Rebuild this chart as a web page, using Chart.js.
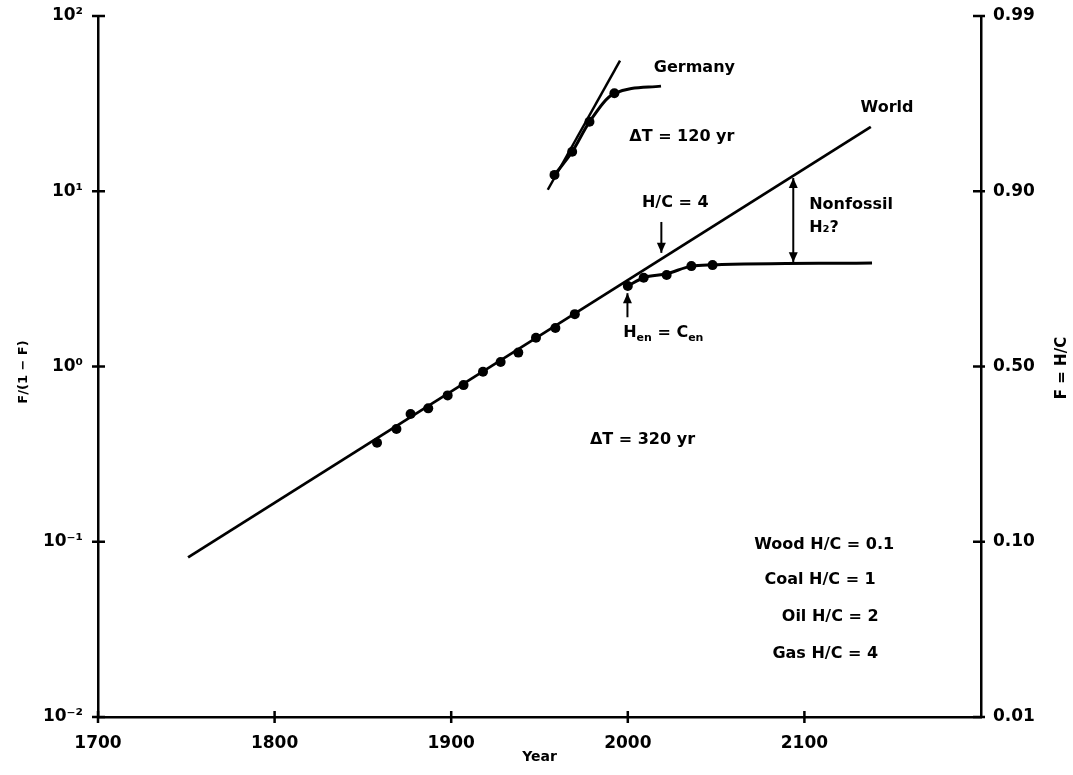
<!DOCTYPE html>
<html><head><meta charset="utf-8">
<script src="https://cdn.jsdelivr.net/npm/chart.js@4.4.0/dist/chart.umd.min.js"></script>
<style>html,body{margin:0;padding:0;background:#fff}canvas{display:block}</style>
</head><body>
<canvas id="c" width="1073" height="775"></canvas>
<script>
// ---- data ----
const xTickValues = [1700, 1800, 1900, 2000, 2100];
const yTickValues = [0.01, 0.1, 1, 10, 100];
const yTickLabels = ['10⁻²', '10⁻¹', '10⁰', '10¹', '10²'];
const fTickLabels = ['0.01', '0.10', '0.50', '0.90', '0.99'];

const worldPointYears  = [1858, 1869, 1877, 1887, 1898, 1907, 1918, 1928, 1938, 1948, 1959, 1970, 2000, 2009, 2022, 2036, 2048];
const worldPointValues = [0.367, 0.44, 0.536, 0.577, 0.684, 0.783, 0.933, 1.06, 1.20, 1.46, 1.66, 1.99, 2.88, 3.21, 3.33, 3.74, 3.79];
const worldTrendYears  = [1751, 2137.6];
const worldTrendValues = [0.0815, 23.3];
const worldFossilYears  = [2000, 2009, 2022, 2036, 2048, 2138.3];
const worldFossilValues = [2.88, 3.21, 3.38, 3.74, 3.8, 3.9];

const germanyPointYears  = [1958.5, 1968.5, 1978.3, 1992.4];
const germanyPointValues = [12.4, 16.8, 24.9, 36.2];
const germanyTrendYears  = [1954.7, 1995.6];
const germanyTrendValues = [10.2, 55.6];
const germanyCurveYears  = [1958.5, 1968.5, 1978.3, 1992.4, 2018.8];
const germanyCurveValues = [12.4, 16.8, 24.9, 36.2, 39.8];

// text annotations (year, value of text centre)
const noteTexts  = ['Germany', 'ΔT = 120 yr', 'World', 'H/C = 4', 'Nonfossil', 'H₂?', 'H|en| = C|en|', 'ΔT = 320 yr', 'Wood H/C = 0.1', 'Coal H/C = 1', 'Oil H/C = 2', 'Gas H/C = 4'];
const noteYears  = [2037.7, 2030.6, 2146.8, 2026.9, 2102.7, 2102.7, 2020.1, 2008.3, 2111.2, 2108.9, 2114.6, 2111.8];
const noteValues = [50.5, 20.4, 29.8, 8.57, 8.35, 6.17, 1.55, 0.381, 0.0958, 0.0605, 0.0372, 0.0229];
const noteAlign  = ['center', 'center', 'center', 'center', 'left', 'left', 'center', 'center', 'center', 'center', 'center', 'center'];

// arrows: year, from value, to value, double-headed?
const arrowYears = [2019.0, 1999.8, 2093.7];
const arrowFrom  = [6.68, 1.91, 3.94];
const arrowTo    = [4.45, 2.62, 11.9];
const arrowBoth  = [false, false, true];

const pts = (xs, ys) => xs.map((x, i) => ({x: x, y: ys[i]}));

const FONT = 'DejaVu Sans';

const overlay = {
  id: 'overlay',
  afterDraw(chart) {
    const ctx = chart.ctx;
    const xs = chart.scales.x, ys = chart.scales.y, y2 = chart.scales.y2;
    const a = chart.chartArea;
    ctx.save();
    ctx.strokeStyle = '#000';
    ctx.fillStyle = '#000';
    ctx.lineWidth = 2.5;
    // cross ticks
    ctx.beginPath();
    xs.ticks.forEach(t => { const p = xs.getPixelForValue(t.value); ctx.moveTo(p, a.bottom - 6); ctx.lineTo(p, a.bottom + 6); });
    ys.ticks.forEach(t => { const p = ys.getPixelForValue(t.value); ctx.moveTo(a.left - 6, p); ctx.lineTo(a.left + 7, p); });
    y2.ticks.forEach(t => { const p = y2.getPixelForValue(t.value); ctx.moveTo(a.right - 8, p); ctx.lineTo(a.right + 4, p); });
    ctx.stroke();

    // arrows
    ctx.lineWidth = 2;
    arrowYears.forEach((yr, i) => {
      const px = xs.getPixelForValue(yr);
      const p0 = ys.getPixelForValue(arrowFrom[i]);
      const p1 = ys.getPixelForValue(arrowTo[i]);
      ctx.beginPath(); ctx.moveTo(px, p0); ctx.lineTo(px, p1); ctx.stroke();
      const head = (py, dir) => {
        ctx.beginPath();
        ctx.moveTo(px, py);
        ctx.lineTo(px - 4.5, py - dir * 10);
        ctx.lineTo(px + 4.5, py - dir * 10);
        ctx.closePath(); ctx.fill();
      };
      head(p1, p1 > p0 ? 1 : -1);
      if (arrowBoth[i]) head(p0, p0 > p1 ? 1 : -1);
    });

    // text notes
    const big = 'bold 16px "' + FONT + '"', small = 'bold 11px "' + FONT + '"';
    ctx.textBaseline = 'middle';
    noteTexts.forEach((txt, i) => {
      const parts = txt.split('|').map((s, k) => ({t: s, sub: k % 2 === 1}));
      let w = 0;
      parts.forEach(p => { ctx.font = p.sub ? small : big; p.w = ctx.measureText(p.t).width; w += p.w; });
      let x = xs.getPixelForValue(noteYears[i]);
      const y = ys.getPixelForValue(noteValues[i]);
      if (noteAlign[i] === 'center') x -= w / 2;
      ctx.textAlign = 'left';
      parts.forEach(p => { ctx.font = p.sub ? small : big; ctx.fillText(p.t, x, p.sub ? y + 5 : y); x += p.w; });
    });

    // axis titles
    ctx.textAlign = 'center';
    ctx.font = 'bold 14px "' + FONT + '"';
    ctx.fillText('Year', (a.left + a.right) / 2, 757);
    ctx.save(); ctx.translate(24, 372); ctx.rotate(-Math.PI / 2);
    ctx.font = 'bold 13px "' + FONT + '"'; ctx.fillText('F/(1 − F)', 0, 0); ctx.restore();
    ctx.save(); ctx.translate(1062, 368); ctx.rotate(-Math.PI / 2);
    ctx.font = 'bold 15px "' + FONT + '"'; ctx.fillText('F = H/C', 0, 0); ctx.restore();
    ctx.restore();
  }
};

const tickFont = {family: FONT, weight: 'bold', size: 17};
const lineDs = (data, w, extra) => Object.assign({
  data: data, showLine: true, borderColor: '#000', borderWidth: w, pointRadius: 0, pointHoverRadius: 0, fill: false
}, extra || {});
const noPad = s => { s.paddingTop = 0; s.paddingBottom = 0; s.paddingLeft = 0; s.paddingRight = 0; };

new Chart(document.getElementById('c'), {
  type: 'scatter',
  data: {
    datasets: [
      lineDs(pts(worldTrendYears, worldTrendValues), 2.8),
      lineDs(pts(worldFossilYears, worldFossilValues), 3, {cubicInterpolationMode: 'monotone'}),
      lineDs(pts(germanyTrendYears, germanyTrendValues), 2.5),
      lineDs(pts(germanyCurveYears, germanyCurveValues), 3, {cubicInterpolationMode: 'monotone'}),
      {data: pts(worldPointYears, worldPointValues), showLine: false, pointRadius: 5, pointBackgroundColor: '#000', pointBorderColor: '#000', pointBorderWidth: 0},
      {data: pts(germanyPointYears, germanyPointValues), showLine: false, pointRadius: 5, pointBackgroundColor: '#000', pointBorderColor: '#000', pointBorderWidth: 0}
    ]
  },
  options: {
    responsive: false, animation: false, devicePixelRatio: 1,
    layout: {padding: {top: 16, left: 0, right: 0, bottom: 0}},
    plugins: {legend: {display: false}, tooltip: {enabled: false}},
    scales: {
      x: {
        type: 'linear', position: 'bottom', min: 1700, max: 2200,
        afterBuildTicks: s => { s.ticks = xTickValues.map(v => ({value: v})); },
        afterFit: s => { s.height = 58; noPad(s); },
        grid: {display: false, drawTicks: false},
        border: {display: true, color: '#000', width: 2.5},
        ticks: {font: tickFont, color: '#000', padding: 16, maxRotation: 0, callback: v => String(v)}
      },
      y: {
        type: 'logarithmic', position: 'left', min: 0.01, max: 100,
        afterBuildTicks: s => { s.ticks = yTickValues.map(v => ({value: v})); },
        afterFit: s => { s.width = 98; noPad(s); },
        grid: {display: false, drawTicks: false},
        border: {display: true, color: '#000', width: 2.5},
        ticks: {font: tickFont, color: '#000', padding: 15, callback: (v, i) => yTickLabels[i]}
      },
      y2: {
        type: 'logarithmic', position: 'right', min: 0.01, max: 100,
        afterBuildTicks: s => { s.ticks = yTickValues.map(v => ({value: v})); },
        afterFit: s => { s.width = 92; noPad(s); },
        grid: {display: false, drawTicks: false},
        border: {display: true, color: '#000', width: 2.5},
        ticks: {font: tickFont, color: '#000', padding: 12, callback: (v, i) => fTickLabels[i]}
      }
    }
  },
  plugins: [overlay]
});
</script>
</body></html>
